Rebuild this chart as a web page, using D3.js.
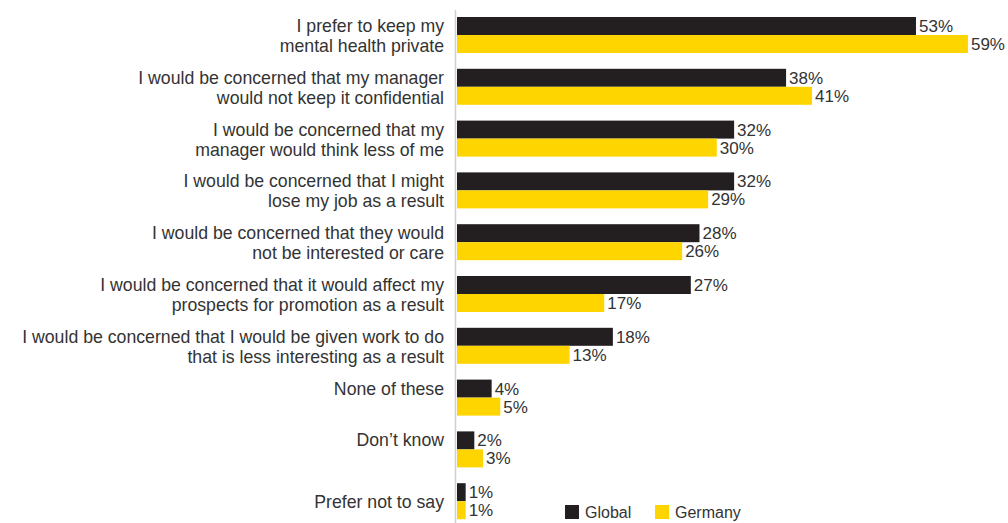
<!DOCTYPE html>
<html>
<head>
<meta charset="utf-8">
<script src="https://cdn.jsdelivr.net/npm/d3@7"></script>
<style>
  html, body { margin: 0; padding: 0; background: #fff; }
  svg { display: block; font-family: "Liberation Sans", Arial, Helvetica, sans-serif; }
</style>
</head>
<body>
<svg id="chart" width="1008" height="523"></svg>
<script>
const categories = [
  ["I prefer to keep my", "mental health private"],
  ["I would be concerned that my manager", "would not keep it confidential"],
  ["I would be concerned that my", "manager would think less of me"],
  ["I would be concerned that I might", "lose my job as a result"],
  ["I would be concerned that they would", "not be interested or care"],
  ["I would be concerned that it would affect my", "prospects for promotion as a result"],
  ["I would be concerned that I would be given work to do", "that is less interesting as a result"],
  ["None of these", ""],
  ["Don\u2019t know", ""],
  ["Prefer not to say"]
];
const seriesNames = ["Global", "Germany"];
const globalValues = [53, 38, 32, 32, 28, 27, 18, 4, 2, 1];
const germanyValues = [59, 41, 30, 29, 26, 17, 13, 5, 3, 1];
const colors = ["#231f20", "#ffd500"];

const svg = d3.select("#chart");
const keys = categories.map((c, i) => i);

const x = d3.scaleLinear().domain([0, 60]).range([457, 457 + 60 * 8.66]);
const y = d3.scaleBand().domain(keys).range([17, 17 + 10 * 51.8]).paddingInner(0);
const ySub = d3.scaleBand().domain(seriesNames).range([0, 36]);

// axis line
svg.append("line")
  .attr("x1", 455.5).attr("x2", 455.5)
  .attr("y1", 10).attr("y2", 523)
  .attr("stroke", "#cfcfcf").attr("stroke-width", 1.5);

const data = keys.map(i => ({ i, values: [globalValues[i], germanyValues[i]] }));

const groups = svg.selectAll("g.grp").data(data).enter().append("g")
  .attr("class", "grp")
  .attr("transform", d => `translate(0,${y(d.i)})`);

groups.selectAll("rect").data(d => d.values.map((v, s) => ({ v, s })))
  .enter().append("rect")
  .attr("x", x(0))
  .attr("y", d => ySub(seriesNames[d.s]))
  .attr("width", d => x(d.v) - x(0))
  .attr("height", ySub.bandwidth())
  .attr("fill", d => colors[d.s]);

groups.selectAll("text.val").data(d => d.values.map((v, s) => ({ v, s })))
  .enter().append("text")
  .attr("class", "val")
  .attr("x", d => x(d.v) + 3)
  .attr("y", d => ySub(seriesNames[d.s]) + ySub.bandwidth() / 2 + 6)
  .attr("font-size", 17)
  .attr("fill", "#333")
  .text(d => d.v + "%");

// category labels
groups.each(function(d) {
  const lines = categories[d.i];
  const g = d3.select(this);
  const n = lines.length;
  const center = 18;
  lines.forEach((ln, k) => {
    if (!ln) return;
    const base = center + 7 + (k - (n - 1) / 2) * 20;
    g.append("text")
      .attr("x", 444)
      .attr("y", base)
      .attr("text-anchor", "end")
      .attr("font-size", 17.7)
      .attr("fill", "#333")
      .text(ln);
  });
});

// legend
const legend = svg.append("g");
const legendX = [565, 655];
seriesNames.forEach((name, s) => {
  legend.append("rect")
    .attr("x", legendX[s]).attr("y", 505)
    .attr("width", 14).attr("height", 14)
    .attr("fill", colors[s]);
  legend.append("text")
    .attr("x", legendX[s] + 20).attr("y", 518)
    .attr("font-size", 16)
    .attr("fill", "#333")
    .text(name);
});
</script>
</body>
</html>
